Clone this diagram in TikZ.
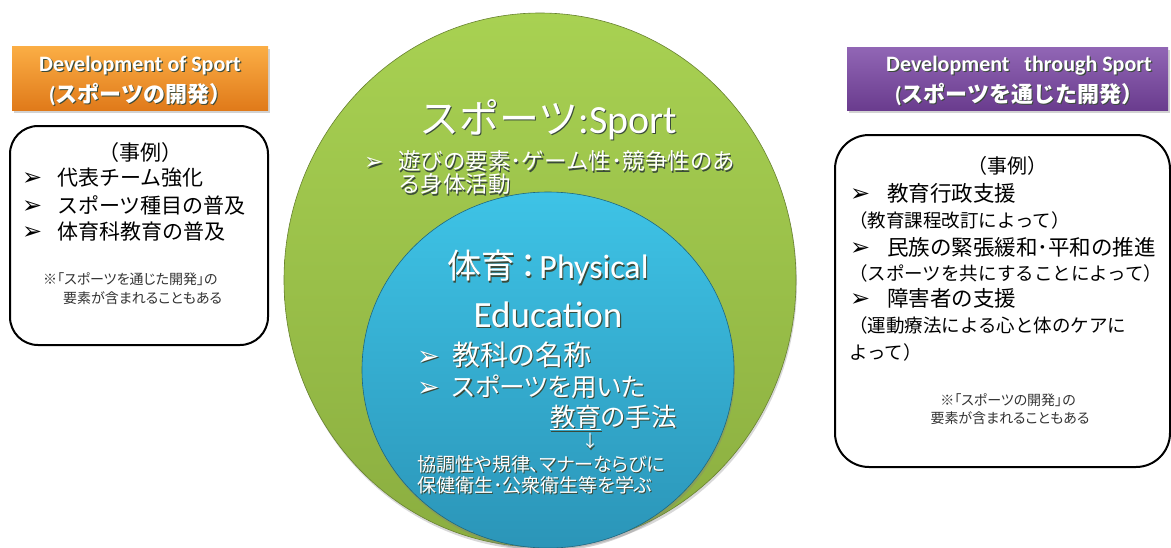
\documentclass[tikz,border=0pt]{standalone}
\usepackage{fontspec}
\usetikzlibrary{shapes.geometric,shadows}
\newfontfamily\jp[RawFeature=+palt]{Noto Sans CJK JP}
\newfontfamily\jpf{Noto Sans CJK JP}
\newfontfamily\calfont{Carlito}
\newfontfamily\djv{DejaVu Sans}
\newcommand{\fs}[1]{\fontsize{#1}{#1}\selectfont}
\newcommand{\bul}[2]{\makebox[#1pt][l]{\djv\fontsize{#2}{#2}\selectfont ➢}}
\definecolor{orT}{HTML}{FBAE45}
\definecolor{orB}{HTML}{E07A1A}
\definecolor{puT}{HTML}{9166B5}
\definecolor{puB}{HTML}{6A3C8E}
\definecolor{grT}{HTML}{A8D152}
\definecolor{grB}{HTML}{8BAE40}
\definecolor{blT}{HTML}{3EC3E6}
\definecolor{blB}{HTML}{2B95B8}
\definecolor{shc}{HTML}{3A4A3A}
\newcommand{\sh}[1]{\rlap{\kern1.2pt\raisebox{-1.2pt}{\textcolor{shc}{#1}}}#1}
\tikzset{
  hdr/.style={draw=none, inner sep=0pt, drop shadow={shadow xshift=2pt, shadow yshift=-3pt, opacity=0.35}},
  hdrtext/.style={text=white, align=center, inner sep=0pt, font=\calfont\bfseries\fontsize{22}{27}\selectfont},
  casebox/.style={draw=black, line width=2pt, fill=white},
  bt/.style={text=black, inner sep=0pt, anchor=west},
  ct/.style={text=black, inner sep=0pt},
  wt/.style={text=white, inner sep=0pt, anchor=west},
  wc/.style={text=white, inner sep=0pt},
  note/.style={text=black!80, inner sep=0pt, font=\jp\fs{14}}
}
\begin{document}
\begin{tikzpicture}[x=1pt,y=-1pt]
\useasboundingbox (0,0) rectangle (1171,547);
\fill[white] (0,0) rectangle (1171,547);
% circles
\node (sport) [ellipse, minimum width=512, minimum height=534, top color=grT, bottom color=grB, draw=grB!75!black, line width=0.6pt, drop shadow={shadow xshift=1pt, shadow yshift=-3pt, opacity=0.3}] at (540,280) {};
\node (pe) [ellipse, minimum width=372, minimum height=356, top color=blT, bottom color=blB, draw=blB!70!black, line width=0.6pt, drop shadow={shadow xshift=1pt, shadow yshift=-3pt, opacity=0.35}] at (548,370) {};
% headers
\node (hdrL) [hdr, minimum width=256, minimum height=64, top color=orT, bottom color=orB] at (140,78) {};
\node (hdrLt) [hdrtext] at (140,81.5) {\sh{Development of Sport}\\[4pt]\sh{({\jpf\bfseries スポーツの開発）}}};
\node (hdrR) [hdr, minimum width=321, minimum height=63, top color=puT, bottom color=puB] at (1007.5,78.5) {};
\node (hdrRt) [hdrtext] at (1019,81.5) {\sh{Development\ \ \ through Sport}\\[4pt]\sh{({\jpf\bfseries スポーツを通じた開発）}}};
% left case box
\node (lbox) [casebox, rounded corners=28pt, minimum width=258, minimum height=219] at (139,235.5) {};
\node (l0) [ct, font=\jpf\fs{21}] at (140,153) {（事例）};
\node (l1) [bt, font=\jpf\fs{21}] at (22,178) {\bul{35}{24}代表チーム強化};
\node (l2) [bt, font=\jpf\fs{21}] at (22,205) {\bul{35}{24}スポーツ種目の普及};
\node (l3) [bt, font=\jpf\fs{21}] at (22,232) {\bul{35}{24}体育科教育の普及};
\node (l4) [note, anchor=west] at (43,279) {※「スポーツを通じた開発」の};
\node (l5) [note, anchor=west] at (63,298) {要素が含まれることもある};
% right case box
\node (rbox) [casebox, rounded corners=34pt, minimum width=335, minimum height=332] at (1002.5,301) {};
\node (r0) [ct, font=\jpf\fs{20}] at (1007,166) {（事例）};
\node (r1) [bt, font=\jpf\fs{21.5}] at (850,193) {\bul{37}{24}教育行政支援};
\node (r2) [bt, font=\jpf\fs{18.5}] at (849,220) {（教育課程改訂によって）};
\node (r3) [bt, font=\jpf\fs{21.5}] at (850,247) {\bul{37}{24}民族の緊張緩和･平和の推進};
\node (r4) [bt, font=\jpf\fs{18.5}] at (849,273) {（スポーツを共にすることによって）};
\node (r5) [bt, font=\jpf\fs{21.5}] at (850,298) {\bul{37}{24}障害者の支援};
\node (r6) [bt, font=\jpf\fs{18.5}] at (849,325) {（運動療法による心と体のケアに};
\node (r7) [bt, font=\jpf\fs{18.5}] at (849,352) {よって）};
\node (r8) [note] at (1008,400) {※「スポーツの開発」の};
\node (r9) [note] at (1010,418) {要素が含まれることもある};
% sport texts
\node (spT) [wc] at (548,120) {\sh{\jpf\fs{40}スポーツ{\calfont :Sport}}};
\node (sp1) [wt, font=\jpf\fs{22.5}] at (364,162) {\sh{\bul{34}{23}遊びの要素･ゲーム性･競争性のあ}};
\node (sp2) [wt, font=\jpf\fs{22.5}] at (398,185) {\sh{る身体活動}};
% PE texts
\node (peT) [wc] at (548,268) {\sh{\jpf\fs{34}体育\kern-4pt：\kern-6pt{\calfont Physical}}};
\node (peT2) [wc] at (548,315) {\sh{\calfont\fs{37}Education}};
\node (pe1) [wt, font=\jp\fs{28}] at (417,355) {\sh{\bul{35}{27}教科の名称}};
\node (pe2) [wt, font=\jp\fs{25.5}] at (417,387) {\sh{\bul{35}{27}スポーツを用いた}};
\node (pe3) [wt, font=\jp\fs{25.5}] at (550,418) {\sh{\underline{教育}の手法}};
\node (pe4) [wc, font=\jpf\fs{17}] at (590,442) {\sh{↓}};
\node (pe5) [wt, font=\jp\fs{19}] at (417,465) {\sh{協調性や規律、マナーならびに}};
\node (pe6) [wt, font=\jp\fs{19}] at (417,486) {\sh{保健衛生･公衆衛生等を学ぶ}};
\end{tikzpicture}
\end{document}
